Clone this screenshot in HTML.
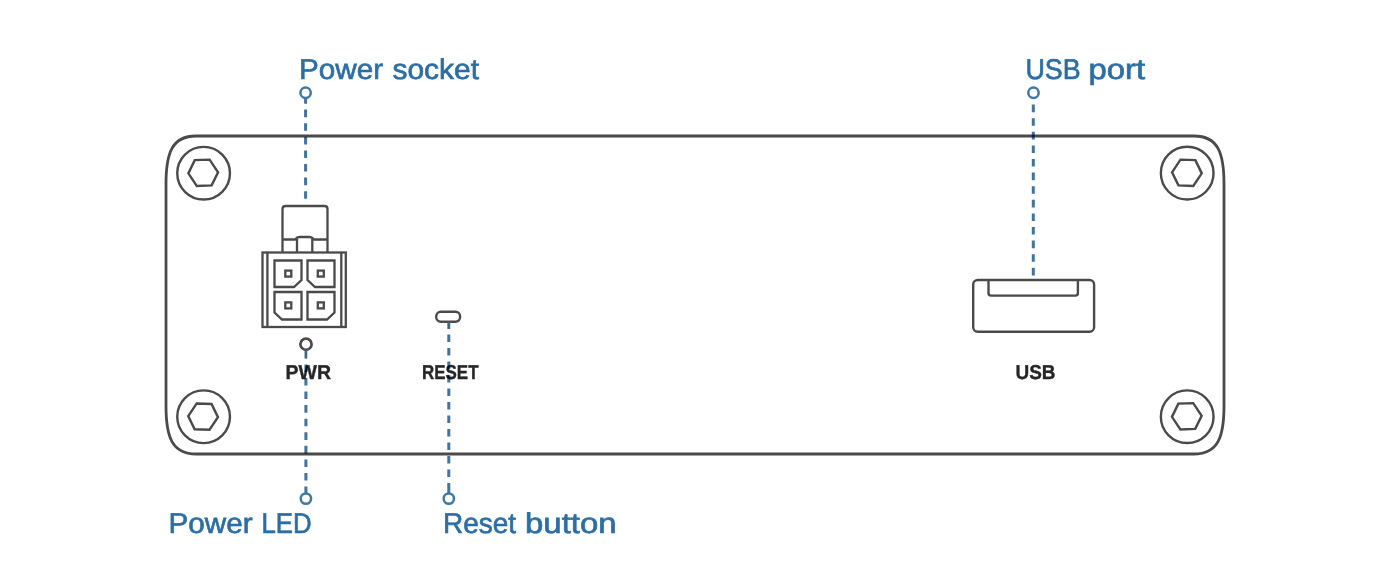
<!DOCTYPE html>
<html><head><meta charset="utf-8">
<style>
html,body{margin:0;padding:0;background:#fff;width:1394px;height:581px;overflow:hidden}
svg{display:block}
</style></head>
<body>
<svg width="1394" height="581" viewBox="0 0 1394 581">
<rect x="0" y="0" width="1394" height="581" fill="#fff"/>
<g fill="none" stroke="#4a4a4a">
  <path d="M196,136 H1194 C1218,136 1224,153 1224,184 V406 C1224,437 1218,454 1194,454 H196 C172,454 166,437 166,406 V184 C166,153 172,136 196,136 Z" stroke-width="2.8"/>
  <g stroke-width="2.4"><circle cx="203.6" cy="173.2" r="26.35"/><polygon transform="translate(203.2,172.8) skewX(2.5) rotate(-2)" points="-14.90,0.00 -7.45,-12.90 7.45,-12.90 14.90,-0.00 7.45,12.90 -7.45,12.90"/><circle cx="203.6" cy="416.75" r="26.35"/><polygon transform="translate(203.1,416.6) skewX(-2.5) rotate(2)" points="-14.90,0.00 -7.45,-12.90 7.45,-12.90 14.90,-0.00 7.45,12.90 -7.45,12.90"/><circle cx="1187.2" cy="173.1" r="26.35"/><polygon transform="translate(1186.9,172.8) skewX(-2.5) rotate(2)" points="-14.90,0.00 -7.45,-12.90 7.45,-12.90 14.90,-0.00 7.45,12.90 -7.45,12.90"/><circle cx="1187.2" cy="416.7" r="26.35"/><polygon transform="translate(1186.8,416.3) skewX(2.5) rotate(-2)" points="-14.90,0.00 -7.45,-12.90 7.45,-12.90 14.90,-0.00 7.45,12.90 -7.45,12.90"/></g>
  <g stroke-width="2.3">
  <path d="M282.5,252 V209 Q282.5,206 285.5,206 H324.5 Q327.5,206 327.5,209 V252"/>
  <path d="M282.5,239.5 H295 Q297,237 299.5,237 H309.5 Q312,237 314,239.5 H327.5"/>
  <path d="M297,239 V252 M312.3,239 V252"/>
  <rect x="262.5" y="252.5" width="83.3" height="74.5"/>
  <path d="M267.4,252.5 V327 M341.3,252.5 V327"/>
  <path d="M274.5,260.5 H301.5 V280 L294,287 H274.5 Z"/>
  <path d="M307.5,260.5 H334.5 V287 H315 L307.5,280 Z"/>
  <path d="M274.5,292 H301.5 V319.5 H282 L274.5,312.5 Z"/>
  <path d="M307.5,292 H334.5 V312.5 L327,319.5 H307.5 Z"/>
  <rect x="285.3" y="270.6" width="6" height="6"/>
  <rect x="317.8" y="270.6" width="6" height="6"/>
  <rect x="285.3" y="302.4" width="6" height="6"/>
  <rect x="317.8" y="302.4" width="6" height="6"/>
  </g>
  <g stroke-width="2.4">
  <circle cx="306" cy="344.2" r="5.6" stroke-width="2.7"/>
  <path d="M305.9,349.5 V358.6" stroke="#43647e" stroke-width="2.7"/>
  <rect x="436.2" y="311.7" width="23.9" height="10" rx="4.6"/>
  <path d="M448.8,322 V329" stroke="#43647e" stroke-width="2.9"/>
  <rect x="973.2" y="280" width="120.9" height="51.8" rx="4.5"/>
  <path d="M988.5,280 V293 Q988.5,295.6 991,295.6 H1075.4 Q1077.9,295.6 1077.9,293 V280"/>
  </g>
</g>
<text text-rendering="geometricPrecision" x="285.50" y="379.00" textLength="45.54" lengthAdjust="spacingAndGlyphs" font-family="Liberation Sans, sans-serif" font-weight="bold" font-size="20" fill="#262626" stroke="#262626" stroke-width="0.35">PWR</text>
<text text-rendering="geometricPrecision" x="422.00" y="379.00" textLength="56.51" lengthAdjust="spacingAndGlyphs" font-family="Liberation Sans, sans-serif" font-weight="bold" font-size="20" fill="#262626" stroke="#262626" stroke-width="0.35">RESET</text>
<text text-rendering="geometricPrecision" x="1015.50" y="379.00" textLength="40.04" lengthAdjust="spacingAndGlyphs" font-family="Liberation Sans, sans-serif" font-weight="bold" font-size="20" fill="#262626" stroke="#262626" stroke-width="0.35">USB</text>
<g style="mix-blend-mode:multiply">
<g fill="none" stroke="#3f78a5" stroke-width="2.5">
  <circle cx="305.6" cy="92.8" r="5.2"/>
  <circle cx="1033.5" cy="92.7" r="5.2"/>
  <circle cx="305.9" cy="498.6" r="5.2"/>
  <circle cx="448.8" cy="498.6" r="5.2"/>
</g>
<g fill="none" stroke="#44729a" stroke-width="3">
  <path d="M305.6,97 V103.8M305.6,109.6V117.2M305.6,123.2V130.8M305.6,136.8V144.4M305.6,150.4V158.0M305.6,164.0V171.6M305.6,177.6V185.2M305.6,191.2V198.8"/>
  <path d="M1033.3,104.6V112.2M1033.3,118.2V125.8M1033.3,131.8V139.4M1033.3,145.4V153.0M1033.3,159.0V166.6M1033.3,172.6V180.2M1033.3,186.2V193.8M1033.3,199.8V207.4M1033.3,213.4V221.0M1033.3,227.0V234.6M1033.3,240.6V248.2M1033.3,254.2V261.8M1033.3,267.8V275.4"/>
  <path d="M305.9,364.4V372.0M305.9,378.0V385.6M305.9,391.5V399.1M305.9,405.1V412.7M305.9,418.7V426.3M305.9,432.2V439.9M305.9,445.8V453.4M305.9,459.4V467.0M305.9,473.0V480.6M305.9,486.5V493"/>
  <path d="M448.8,334.4V342.0M448.8,347.9V355.5M448.8,361.4V369.0M448.8,374.9V382.5M448.8,388.4V396.0M448.8,401.9V409.5M448.8,415.4V423.0M448.8,428.9V436.5M448.8,442.4V450.0M448.8,455.9V463.5M448.8,469.4V477.0M448.8,483.1V493"/>
</g>
</g>
<text text-rendering="geometricPrecision" x="299.00" y="79.00" textLength="84.03" lengthAdjust="spacingAndGlyphs" font-family="Liberation Sans, sans-serif" font-size="28.5" fill="#2b6ea5" stroke="#2b6ea5" stroke-width="0.65">Power</text>
<text text-rendering="geometricPrecision" x="392.50" y="79.00" textLength="86.52" lengthAdjust="spacingAndGlyphs" font-family="Liberation Sans, sans-serif" font-size="28.5" fill="#2b6ea5" stroke="#2b6ea5" stroke-width="0.65">socket</text>
<text text-rendering="geometricPrecision" x="1025.50" y="79.00" textLength="55.16" lengthAdjust="spacingAndGlyphs" font-family="Liberation Sans, sans-serif" font-size="28.5" fill="#2b6ea5" stroke="#2b6ea5" stroke-width="0.65">USB</text>
<text text-rendering="geometricPrecision" x="1088.50" y="79.00" textLength="56.55" lengthAdjust="spacingAndGlyphs" font-family="Liberation Sans, sans-serif" font-size="28.5" fill="#2b6ea5" stroke="#2b6ea5" stroke-width="0.65">port</text>
<text text-rendering="geometricPrecision" x="168.50" y="533.00" textLength="84.03" lengthAdjust="spacingAndGlyphs" font-family="Liberation Sans, sans-serif" font-size="28.5" fill="#2b6ea5" stroke="#2b6ea5" stroke-width="0.65">Power</text>
<text text-rendering="geometricPrecision" x="261.50" y="533.00" textLength="50.10" lengthAdjust="spacingAndGlyphs" font-family="Liberation Sans, sans-serif" font-size="28.5" fill="#2b6ea5" stroke="#2b6ea5" stroke-width="0.65">LED</text>
<text text-rendering="geometricPrecision" x="443.00" y="533.00" textLength="73.04" lengthAdjust="spacingAndGlyphs" font-family="Liberation Sans, sans-serif" font-size="28.5" fill="#2b6ea5" stroke="#2b6ea5" stroke-width="0.65">Reset</text>
<text text-rendering="geometricPrecision" x="525.00" y="533.00" textLength="91.59" lengthAdjust="spacingAndGlyphs" font-family="Liberation Sans, sans-serif" font-size="28.5" fill="#2b6ea5" stroke="#2b6ea5" stroke-width="0.65">button</text>
</svg>
</body></html>
